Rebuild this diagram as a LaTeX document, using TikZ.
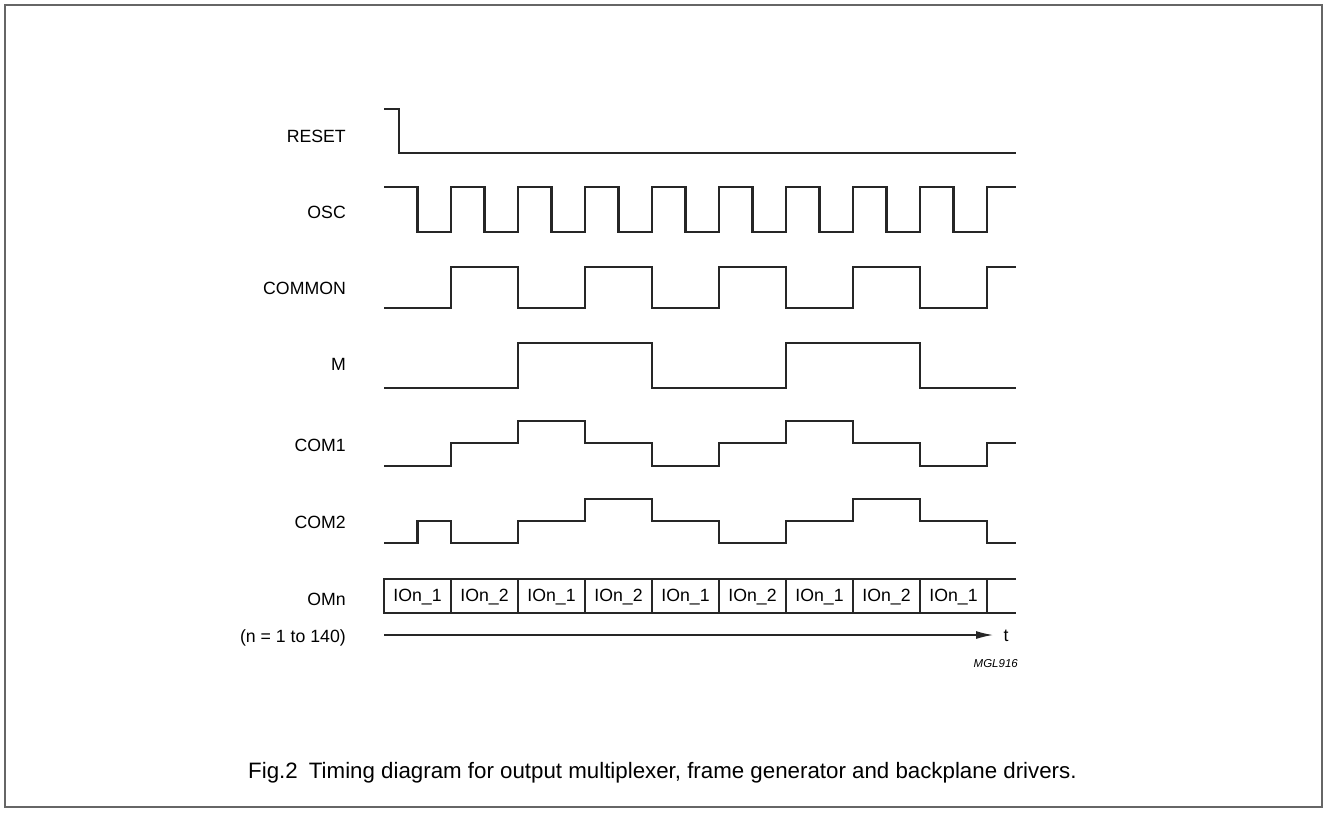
\documentclass[tikz,border=0pt]{standalone}
\usepackage{fontspec}
\setmainfont{Liberation Sans}
\usetikzlibrary{arrows.meta}
\begin{document}
\begin{tikzpicture}[x=1pt,y=-1pt,
  wave/.style={line width=2.5pt,draw=black!85,line join=miter},
  lbl/.style={anchor=east,inner sep=0pt,font=\fontsize{17.7}{20}\selectfont},
  cell/.style={inner sep=0pt,font=\fontsize{17.7}{20}\selectfont},
  axis/.style={line width=1.3pt,draw=black!85,-{Latex[length=17pt,width=8pt]}}]
\useasboundingbox (0,0) rectangle (1327,812);
\draw[line width=1.2pt,draw=black!60] (5,5) rectangle (1322,807);
% labels
\node[lbl] (lreset) at (346,136) {RESET};
\node[lbl] (losc) at (346,212) {OSC};
\node[lbl] (lcommon) at (346,288) {COMMON};
\node[lbl] (lm) at (346,364) {M};
\node[lbl] (lcom1) at (346,445) {COM1};
\node[lbl] (lcom2) at (346,522) {COM2};
\node[lbl] (lomn) at (346,599) {OMn};
\node[lbl] (lnrange) at (346,638) {(n = 1 to 140)};
% waveforms
\begin{scope}[x=33.5pt,xshift=384pt]
\draw[wave] (0,109) -| (0.45,153) -- (18.866,153);
\draw[wave] (0,187) -| (1,232) -| (2,187) -| (3,232) -| (4,187) -| (5,232) -| (6,187) -| (7,232) -| (8,187) -| (9,232) -| (10,187) -| (11,232) -| (12,187) -| (13,232) -| (14,187) -| (15,232) -| (16,187) -| (17,232) -| (18,187) -- (18.866,187);
\draw[wave] (0,308) -| (2,267) -| (4,308) -| (6,267) -| (8,308) -| (10,267) -| (12,308) -| (14,267) -| (16,308) -| (18,267) -- (18.866,267);
\draw[wave] (0,388) -| (4,343) -| (8,388) -| (12,343) -| (16,388) -- (18.866,388);
\draw[wave] (0,466) -| (2,443) -| (4,421) -| (6,443) -| (8,466) -| (10,443) -| (12,421) -| (14,443) -| (16,466) -| (18,443) -- (18.866,443);
\draw[wave] (0,543) -| (1,521) -| (2,543) -| (4,521) -| (6,499) -| (8,521) -| (10,543) -| (12,521) -| (14,499) -| (16,521) -| (18,543) -- (18.866,543);
% OMn bus
\draw[wave] (18.866,579) -- (0,579) -- (0,613) -- (18.866,613);
\foreach \k in {2,4,...,18} \draw[wave] (\k,579) -- (\k,613);
\foreach \k/\t in {0/1,1/2,2/1,3/2,4/1,5/2,6/1,7/2,8/1}
  \node[cell] (io\k) at ({2*\k+1},597) {IOn\_\t};
\coordinate (tstart) at (0,635);
\end{scope}
\node[inner sep=0pt,font=\fontsize{17.7}{20}\selectfont] (tlab) at (1006,636) {t};
\draw[axis] (tstart) -- (993,635);
\node[anchor=east,inner sep=0pt,font=\fontsize{11.5}{13}\selectfont\itshape] (mgl) at (1018,664) {MGL916};
\node[anchor=west,inner sep=0pt,font=\fontsize{22.3}{25}\selectfont] (caption) at (248,773) {Fig.2\enspace Timing diagram for output multiplexer, frame generator and backplane drivers.};
\end{tikzpicture}
\end{document}
